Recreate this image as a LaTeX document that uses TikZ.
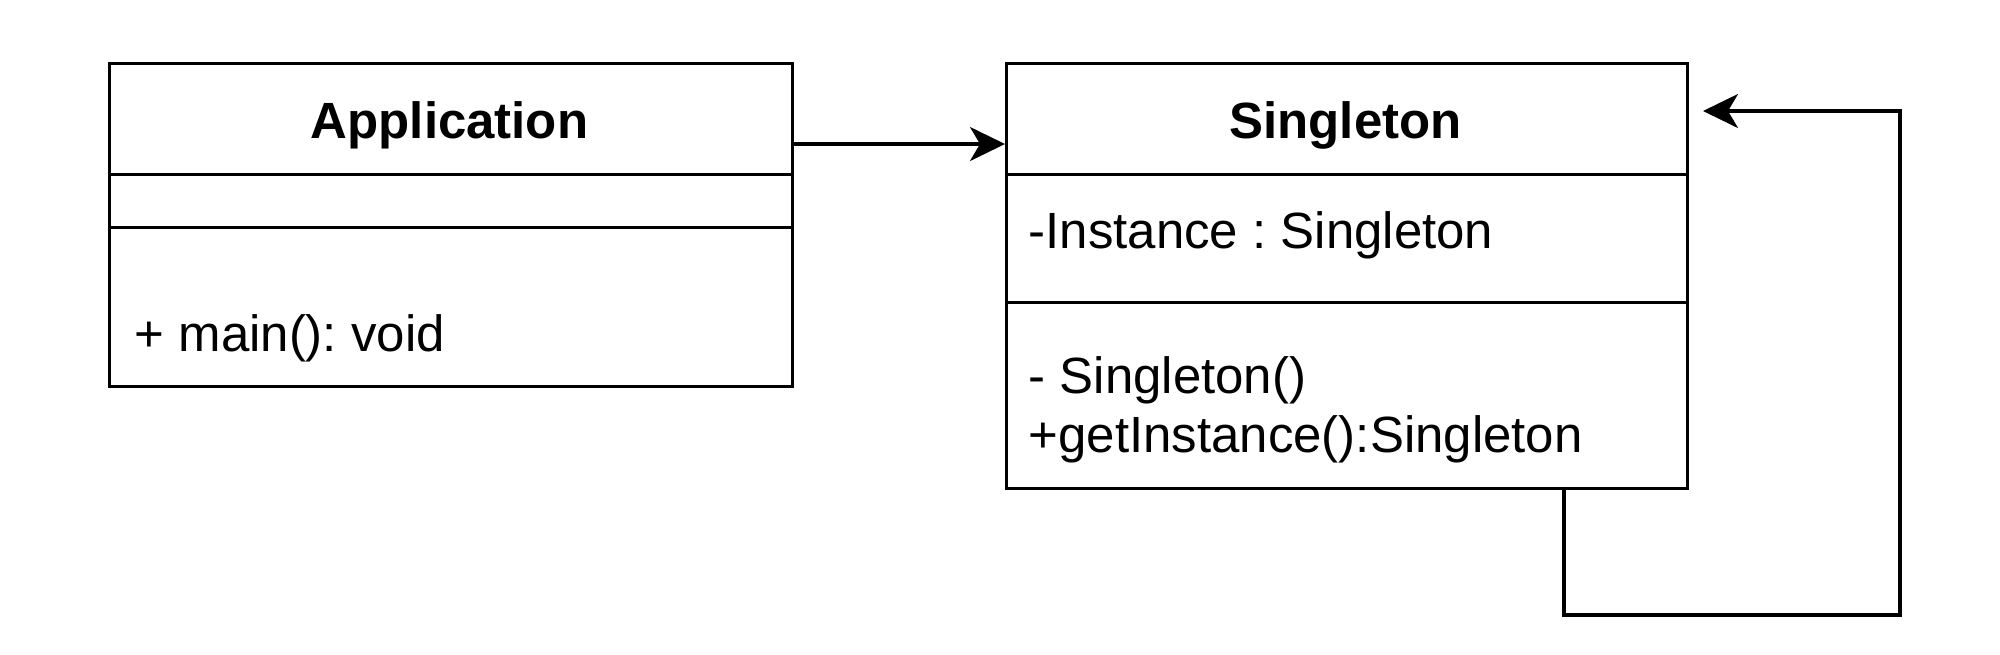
\documentclass[tikz,border=0pt]{standalone}
\usepackage{fontspec}
\setmainfont{Liberation Sans}
\usetikzlibrary{arrows.meta}
\frenchspacing
\begin{document}
\begin{tikzpicture}[
  box/.style={draw, line width=0.9pt, rectangle, anchor=north west, inner sep=0pt},
  lbl/.style={inner sep=0pt, anchor=west, font=\fontsize{14.5}{16.8}\selectfont, align=left},
  ttl/.style={font=\fontsize{14.5}{16.8}\selectfont\bfseries},
  conn/.style={line width=0.9pt, -{Stealth[length=3.5mm,width=3.4mm,inset=1mm]}}
]
\useasboundingbox (0,0) rectangle (20,-6.54);
% Application class
\node[box, minimum width=6.83cm, minimum height=1.11cm] (appHead) at (1.08,-0.62) {};
\node[box, minimum width=6.83cm, minimum height=0.53cm] (appAttr) at (1.08,-1.73) {};
\node[box, minimum width=6.83cm, minimum height=1.59cm] (appOps) at (1.08,-2.26) {};
\node[ttl] (appTitle) at (4.495,-1.25) {Application};
\node[lbl] (appMain) at (1.34,-3.38) {+ main(): void};
% Singleton class
\node[box, minimum width=6.81cm, minimum height=1.11cm] (sgHead) at (10.05,-0.62) {};
\node[box, minimum width=6.81cm, minimum height=1.28cm] (sgAttr) at (10.05,-1.73) {};
\node[box, minimum width=6.81cm, minimum height=1.86cm] (sgOps) at (10.05,-3.01) {};
\node[ttl] (sgTitle) at (13.455,-1.25) {Singleton};
\node[lbl] (sgInst) at (10.28,-2.35) {-Instance : Singleton};
\node[lbl] (sgMeth) at (10.28,-4.095) {- Singleton()\\+getInstance():Singleton};
% connectors
\coordinate (a1) at (7.91,-1.44);
\draw[conn] (a1) -- (a1 -| sgHead.west);
\coordinate (lx) at (15.64,0);
\coordinate (c1) at (19.00,-6.15);
\coordinate (c2) at (17.03,-1.11);
\draw[conn] (sgOps.south -| lx) |- (c1) |- (c2);
\end{tikzpicture}
\end{document}
